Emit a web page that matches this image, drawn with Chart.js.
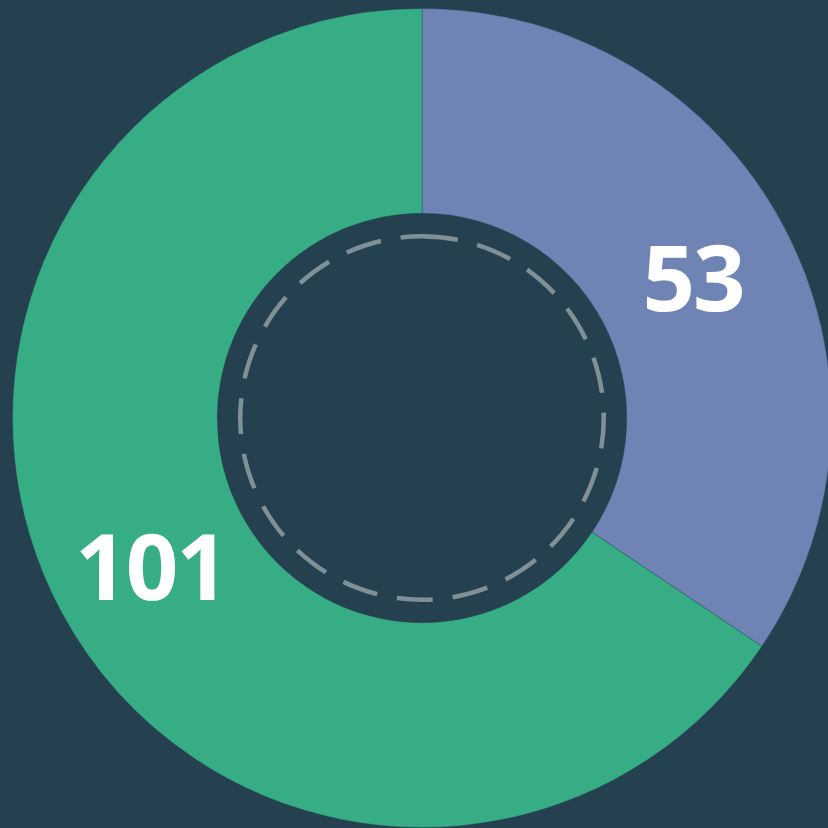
<!DOCTYPE html>
<html>
<head>
<meta charset="utf-8">
<script src="https://cdn.jsdelivr.net/npm/chart.js@4"></script>
<style>
    html, body { margin: 0; padding: 0; background: #25404f; overflow: hidden; }
    #wrap { position: absolute; left: 12px; top: 8px; width: 820px; height: 820px; }
</style>
</head>
<body>
<div id="wrap"><canvas id="donut01" width="820" height="820"></canvas></div>
<script>
const labels = ['A', 'B'];
const values = [53, 101];
const sliceColors = ['#6f84b5', '#36ad85'];

// dashed ring inside the hole + value labels on slices
const donutExtras = {
    id: 'donutExtras',
    afterDatasetsDraw(chart) {
        const ctx = chart.ctx;
        const meta = chart.getDatasetMeta(0);
        const arc0 = meta.data[0];
        if (!arc0) return;
        const { x, y, innerRadius } = arc0.getProps(['x', 'y', 'innerRadius'], true);

        ctx.save();
        ctx.beginPath();
        ctx.setLineDash([36, 20]);
        ctx.lineWidth = 4.5;
        ctx.strokeStyle = '#7f9097';
        ctx.arc(x, y, innerRadius - 23, -Math.PI / 2, Math.PI * 1.5);
        ctx.stroke();
        ctx.restore();

        ctx.save();
        ctx.fillStyle = '#ffffff';
        ctx.font = 'bold 92px "Open Sans", sans-serif';
        ctx.letterSpacing = '-2px';
        ctx.textAlign = 'center';
        ctx.textBaseline = 'middle';
        meta.data.forEach((arc, i) => {
            const pos = arc.tooltipPosition(true);
            ctx.fillText(String(values[i]), pos.x, pos.y + 11);
        });
        ctx.restore();
    },
};

const ctx = document.getElementById('donut01').getContext('2d');
const chart = new Chart(ctx, {
    type: 'doughnut',
    data: {
        labels,
        datasets: [
            {
                data: values,
                backgroundColor: sliceColors,
                borderColor: 'rgba(37, 64, 79, 0.35)',
                borderWidth: 1,
            },
        ],
    },
    options: {
        responsive: false,
        animation: false,
        cutout: '50%',
        plugins: {
            legend: { display: false },
            tooltip: { enabled: false },
        },
        layout: { padding: 0 },
        events: [],
    },
    plugins: [donutExtras],
});
</script>
</body>
</html>
